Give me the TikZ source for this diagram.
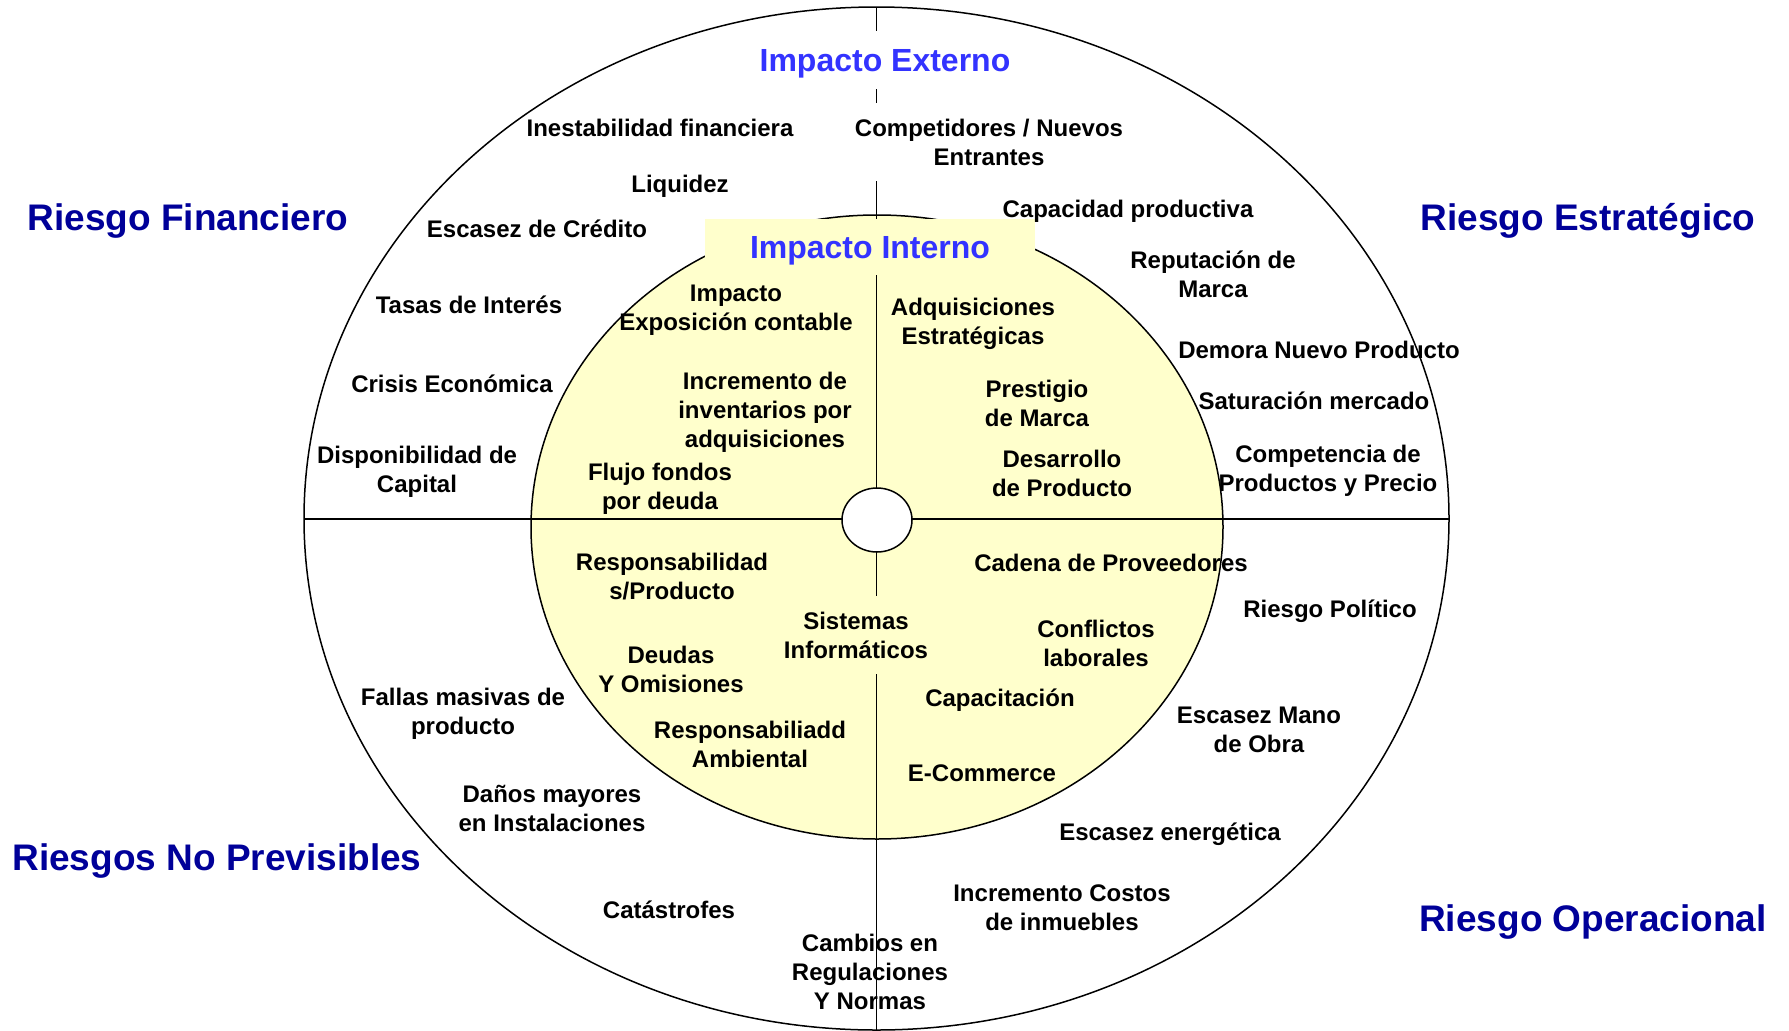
\documentclass[tikz,border=0pt]{standalone}
\usepackage{fontspec}
\setmainfont{Liberation Sans}
\usetikzlibrary{shapes.geometric}

\definecolor{riskblue}{RGB}{0,0,153}
\definecolor{impactblue}{RGB}{51,51,255}
\definecolor{innerfill}{RGB}{255,255,204}

\begin{document}
\begin{tikzpicture}[x=1pt,y=-1pt,
    ring/.style={draw,ellipse,line width=1.5pt,inner sep=0pt,outer sep=0pt},
    item/.style={font=\fontsize{24}{29}\selectfont\bfseries,align=center,inner sep=0pt},
    risk/.style={font=\fontsize{37}{44}\selectfont\bfseries,text=riskblue,inner sep=0pt},
    impact/.style={font=\fontsize{32}{38}\selectfont\bfseries,text=impactblue,text depth=0pt},
    cover/.style={inner xsep=4pt,inner ysep=16pt}]

  \useasboundingbox (0,0) rectangle (1789,1031);

  % Rings
  \node[ring,minimum width=1145pt,minimum height=1023pt] (outer) at (876.5,518.5) {};
  \node[ring,fill=innerfill,minimum width=692pt,minimum height=624pt] (inner) at (877,527) {};

  % Axes
  \draw[line width=1.5pt] (outer.north) -- (outer.south);
  \draw[line width=2pt] (outer.west) -- (outer.east);

  % Headings sitting on the vertical axis
  \node[impact,fill=innerfill,inner sep=0pt,minimum width=330pt,minimum height=56pt] (intern) at (870,247) {Impacto Interno};
  \node[impact,fill=white,cover,inner ysep=18pt] (extern) at (885,60) {Impacto Externo};

  % Hub
  \node[ring,fill=white,minimum width=70pt,minimum height=64pt] (hub) at (877,520) {};

  % Quadrant labels
  \node[risk] (fin) at (188,221) {Riesgo Financiero};
  \node[risk] (est) at (1588,221) {Riesgo Estratégico};
  \node[risk] (npr) at (217,861) {Riesgos No Previsibles};
  \node[risk] (ope) at (1593,922) {Riesgo Operacional};

  % Riesgo Financiero, externo
  \node[item] (f1) at (660,128) {Inestabilidad financiera};
  \node[item] (f2) at (680,186) {Liquidez};
  \node[item] (f3) at (537,229) {Escasez de Crédito};
  \node[item] (f4) at (469,305) {Tasas de Interés};
  \node[item] (f5) at (452,384) {Crisis Económica};
  \node[item] (f6) at (417,472) {Disponibilidad de\\Capital};
  % Riesgo Financiero, interno
  \node[item] (fi1) at (736,310) {Impacto\\Exposición contable};
  \node[item] (fi2) at (765,412) {Incremento de\\inventarios por\\adquisiciones};
  \node[item] (fi3) at (660,489) {Flujo fondos\\por deuda};

  % Riesgo Estratégico, externo
  \node[item,fill=white,cover] (e1) at (989,142) {Competidores / Nuevos\\Entrantes};
  \node[item] (e2) at (1128,211) {Capacidad productiva};
  \node[item] (e3) at (1213,274) {Reputación de\\Marca};
  \node[item] (e4) at (1319,350) {Demora Nuevo Producto};
  \node[item] (e5) at (1314,401) {Saturación mercado};
  \node[item] (e6) at (1328,471) {Competencia de\\Productos y Precio};
  % Riesgo Estratégico, interno
  \node[item] (ei1) at (973,324) {Adquisiciones\\Estratégicas};
  \node[item] (ei2) at (1037,403) {Prestigio\\de Marca};
  \node[item] (ei3) at (1062,473) {Desarrollo\\de Producto};

  % Riesgos No Previsibles, interno
  \node[item] (ni1) at (672,577) {Responsabilidad\\s/Producto};
  \node[item] (ni2) at (671,669) {Deudas\\Y Omisiones};
  \node[item] (ni3) at (750,744) {Responsabiliadd\\Ambiental};
  \node[item,fill=innerfill,cover] (ni4) at (856,635) {Sistemas\\Informáticos};
  % Riesgos No Previsibles, externo
  \node[item] (n1) at (463,714) {Fallas masivas de\\producto};
  \node[item] (n2) at (552,808) {Daños mayores\\en Instalaciones};
  \node[item] (n3) at (669,910) {Catástrofes};
  \node[item] (n4) at (870,972) {Cambios en\\Regulaciones\\Y Normas};

  % Riesgo Operacional, interno
  \node[item] (oi1) at (1111,563) {Cadena de Proveedores};
  \node[item] (oi2) at (1096,643) {Conflictos\\laborales};
  \node[item] (oi3) at (1000,700) {Capacitación};
  \node[item] (oi4) at (982,773) {E-Commerce};
  % Riesgo Operacional, externo
  \node[item] (o1) at (1330,611) {Riesgo Político};
  \node[item] (o2) at (1259,730) {Escasez Mano\\de Obra};
  \node[item] (o3) at (1170,834) {Escasez energética};
  \node[item] (o4) at (1062,908) {Incremento Costos\\de inmuebles};
\end{tikzpicture}
\end{document}
